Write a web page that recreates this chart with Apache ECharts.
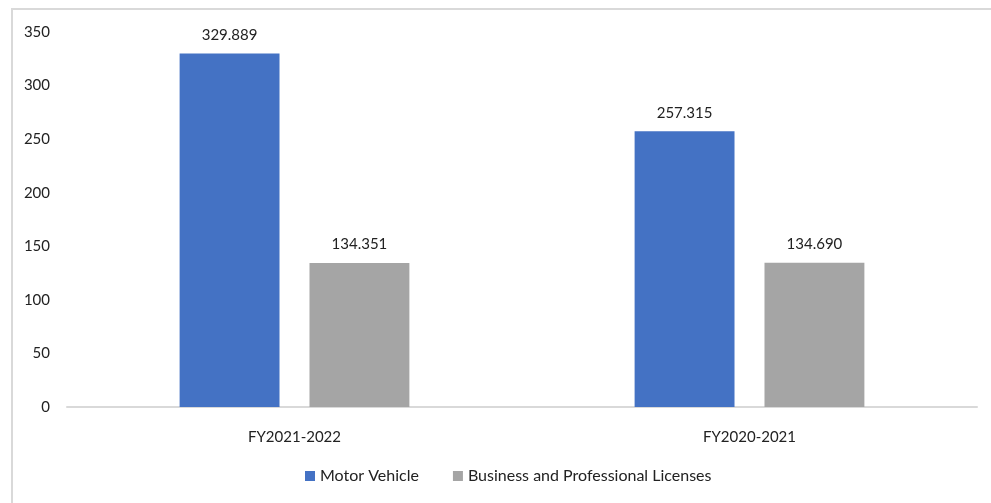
<!DOCTYPE html>
<html>
<head>
<meta charset="utf-8">
<script src="https://cdn.jsdelivr.net/npm/echarts@6/dist/echarts.min.js"></script>
<style>
  html, body { margin: 0; padding: 0; background: #fff; }
  #chart { width: 991px; height: 503px; }
</style>
</head>
<body>
<div id="chart"></div>
<script>
  // data
  const categories = ['FY2021-2022', 'FY2020-2021']
  const motorVehicle = [329.889, 257.315]
  const businessLicenses = [134.351, 134.690]
  const seriesNames = ['Motor Vehicle', 'Business and Professional Licenses']

  const font = 'Lato, "Liberation Sans", sans-serif'
  const chart = echarts.init(document.getElementById('chart'))

  const labelOpt = {
    show: true,
    position: 'top',
    distance: 11,
    color: '#222',
    fontSize: 15,
    fontFamily: font,
    formatter: p => p.value.toFixed(3)
  }

  chart.setOption({
    animation: false,
    textStyle: { fontFamily: font },
    graphic: [{
      type: 'rect',
      shape: { x: 12, y: 9, width: 1000, height: 600 },
      style: { fill: 'none', stroke: '#d9d9d9', lineWidth: 2 },
      silent: true
    }],
    grid: { left: 67, right: 14, top: 32, bottom: 96 },
    legend: {
      bottom: 14,
      left: 300,
      itemWidth: 10,
      itemHeight: 10,
      itemGap: 34,
      icon: 'rect',
      textStyle: { fontSize: 16, color: '#222', fontFamily: font },
      data: seriesNames
    },
    xAxis: {
      type: 'category',
      data: categories,
      axisLine: { lineStyle: { color: '#d9d9d9', width: 2 } },
      axisTick: { show: false },
      axisLabel: { fontSize: 15, color: '#222', margin: 23, fontFamily: font }
    },
    yAxis: {
      type: 'value',
      min: 0,
      max: 350,
      interval: 50,
      axisLine: { show: false },
      axisTick: { show: false },
      splitLine: { show: false },
      axisLabel: { fontSize: 15, color: '#222', margin: 17, fontFamily: font }
    },
    series: [{
      name: seriesNames[0],
      type: 'bar',
      data: motorVehicle,
      barGap: '30%',
      barCategoryGap: '49.5%',
      itemStyle: { color: '#4472C4' },
      label: labelOpt
    }, {
      name: seriesNames[1],
      type: 'bar',
      data: businessLicenses,
      itemStyle: { color: '#A5A5A5' },
      label: labelOpt
    }]
  })
</script>
</body>
</html>
